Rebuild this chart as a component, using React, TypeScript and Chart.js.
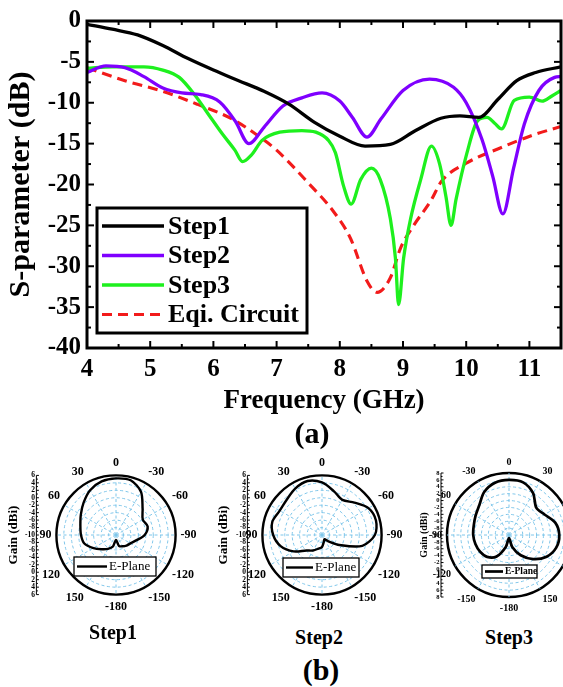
import React, { useEffect, useRef } from "react";
import { Chart, registerables } from "chart.js";
Chart.register(...registerables);

const SERIF = '"Times New Roman", "Liberation Serif", "DejaVu Serif", serif';

// ---------- (a) S-parameter curves ----------
const freqStep1 = [4, 4.4, 4.8, 5.2, 5.6, 6.0, 6.4, 6.8, 7.2, 7.6, 8.0, 8.4, 8.8, 9.2, 9.6, 9.9, 10.2, 10.5, 10.8, 11.1, 11.5];
const sStep1 = [-0.4, -1.0, -1.7, -3.0, -4.6, -6.0, -7.3, -8.6, -10.2, -12.4, -14.1, -15.3, -15.1, -13.4, -11.9, -11.6, -11.8, -9.6, -7.3, -6.3, -5.6];

const freqStep2 = [4, 4.3, 4.6, 4.9, 5.2, 5.5, 5.8, 6.1, 6.35, 6.56, 6.8, 7.1, 7.4, 7.72, 8.0, 8.2, 8.43, 8.65, 9.0, 9.42, 9.8, 10.0, 10.25, 10.42, 10.58, 10.75, 10.92, 11.15, 11.4, 11.5];
const sStep2 = [-6.3, -5.5, -5.7, -6.8, -8.2, -8.8, -9.0, -9.9, -12.3, -15.0, -13.0, -10.4, -9.4, -8.8, -9.8, -11.8, -14.2, -12.0, -8.5, -7.1, -8.1, -10.0, -14.5, -19.0, -23.6, -18.0, -12.6, -8.5, -6.9, -6.8];

const freqStep3 = [4, 4.4, 4.9, 5.2, 5.46, 5.7, 5.92, 6.14, 6.34, 6.46, 6.6, 6.77, 7.05, 7.4, 7.62, 7.82, 7.93, 8.06, 8.18, 8.33, 8.5, 8.64, 8.8, 8.88, 8.93, 9.01, 9.12, 9.28, 9.45, 9.58, 9.68, 9.76, 9.84, 10.01, 10.18, 10.33, 10.45, 10.56, 10.76, 11.0, 11.2, 11.35, 11.5];
const sStep3 = [-5.8, -5.6, -5.6, -6.0, -6.9, -9.0, -11.4, -13.8, -15.8, -17.2, -16.4, -14.6, -13.6, -13.4, -13.6, -14.6, -16.1, -20.2, -22.4, -19.4, -18.0, -19.4, -24.2, -29.0, -34.7, -29.0, -24.2, -19.4, -15.3, -17.5, -21.5, -25.0, -21.8, -16.2, -12.2, -11.8, -12.5, -13.2, -9.7, -9.3, -9.8, -9.2, -8.5];

const freqEqi = [4, 4.6, 5.2, 5.75, 6.3, 6.7, 7.0, 7.5, 7.9, 8.17, 8.43, 8.59, 8.8, 8.96, 9.17, 9.44, 9.61, 10.0, 10.58, 11.04, 11.5];
const sEqi = [-5.7, -7.3, -8.6, -10.2, -12.0, -14.0, -15.8, -19.8, -23.3, -26.6, -31.8, -33.2, -31.4, -27.8, -25.0, -22.0, -19.6, -17.4, -15.4, -14.0, -12.9];

const seriesLabels = ["Step1", "Step2", "Step3", "Eqi. Circuit"];

// ---------- (b) E-plane radiation patterns (gain, dBi) ----------
// angles listed clockwise from the top of each polar plot
const anglesCCW = [0, -15, -30, -45, -60, -75, -90, -105, -120, -135, -150, -165, 180, 165, 150, 135, 120, 105, 90, 75, 60, 45, 30, 15];
const anglesCW = [0, 15, 30, 45, 60, 75, 90, 105, 120, 135, 150, 165, 180, -165, -150, -135, -120, -105, -90, -75, -60, -45, -30, -15];
const gainStep1 = [5.2, 5.2, 3.4, 0.1, -1.7, -1.2, -2.3, -4.4, -5.5, -6.0, -6.5, -7.0, -8.7, -6.8, -5.7, -4.6, -3.0, -1.2, -0.6, -0.1, 0.9, 2.3, 3.9, 4.9];
const gainStep2 = [4.1, 2.2, 0.9, 2.3, 4.4, 5.0, 4.2, 1.2, -4.6, -7.6, -8.7, -8.1, -6.8, -6.2, -5.2, -4.1, -1.2, 1.5, 3.1, 3.8, 3.1, 3.4, 4.4, 5.0];
const gainStep3 = [6.0, 5.8, 4.0, 1.2, 1.9, 3.9, 4.6, 4.2, 2.6, -0.1, -3.2, -6.4, -9.1, -6.4, -2.8, -1.0, -0.3, 0.1, 0.4, 0.6, 1.2, 2.2, 4.4, 5.7];

const xy = (xs: number[], ys: number[]) => xs.map((x, i) => ({ x, y: ys[i] }));

function seg(ctx: CanvasRenderingContext2D, x1: number, y1: number, x2: number, y2: number) {
  ctx.beginPath();
  ctx.moveTo(x1, y1);
  ctx.lineTo(x2, y2);
  ctx.stroke();
}

const frameTicksPlugin = {
  id: "frameTicks",
  afterDraw(chart: any) {
    const { ctx, chartArea: a, scales } = chart;
    const x = scales.x, y = scales.y;
    ctx.save();
    ctx.strokeStyle = "#000";
    ctx.lineWidth = 2;
    const xt = x.ticks.map((t: any) => t.value);
    const xs: [number, boolean][] = [];
    xt.forEach((v: number, i: number) => {
      xs.push([v, true]);
      const nx = i + 1 < xt.length ? xt[i + 1] : x.max;
      const mid = v + (nx - v) / 2;
      if (mid < x.max + 1e-9 && nx - v > 0.6) xs.push([mid, false]);
      else if (i + 1 >= xt.length && v + 0.5 <= x.max + 1e-9) xs.push([v + 0.5, false]);
    });
    xs.forEach(([v, major]) => {
      const px = x.getPixelForValue(v);
      const len = major ? 7 : 4;
      seg(ctx, px, a.bottom, px, a.bottom - len);
      seg(ctx, px, a.top, px, a.top + len);
    });
    const yt = y.ticks.map((t: any) => t.value);
    yt.forEach((v: number, i: number) => {
      const py = y.getPixelForValue(v);
      seg(ctx, a.left, py, a.left + 7, py);
      seg(ctx, a.right, py, a.right - 7, py);
      if (i + 1 < yt.length) {
        const pm = y.getPixelForValue((v + yt[i + 1]) / 2);
        seg(ctx, a.left, pm, a.left + 4, pm);
        seg(ctx, a.right, pm, a.right - 4, pm);
      }
    });
    ctx.lineWidth = 3;
    ctx.strokeRect(a.left, a.top, a.right - a.left, a.bottom - a.top);
    ctx.restore();
  },
};

const insideLegendPlugin = {
  id: "insideLegend",
  afterDraw(chart: any, _args: any, o: any) {
    const { ctx, chartArea: a } = chart;
    const bx = a.left + o.dx, by = a.top + o.dy;
    ctx.save();
    ctx.fillStyle = "#fff";
    ctx.fillRect(bx, by, o.w, o.h);
    ctx.strokeStyle = "#000";
    ctx.lineWidth = 3;
    ctx.strokeRect(bx, by, o.w, o.h);
    ctx.font = `bold ${o.fontSize}px ${SERIF}`;
    ctx.textBaseline = "middle";
    ctx.textAlign = "left";
    chart.data.datasets.forEach((ds: any, i: number) => {
      const yy = by + o.firstRow + i * o.rowH;
      ctx.strokeStyle = ds.borderColor;
      ctx.lineWidth = ds.borderWidth;
      ctx.setLineDash(ds.borderDash || []);
      seg(ctx, bx + 5, yy, bx + 5 + o.lineLen, yy);
      ctx.setLineDash([]);
      ctx.fillStyle = "#000";
      ctx.fillText(ds.label, bx + 9 + o.lineLen, yy + 1);
    });
    ctx.restore();
  },
};

const polarExtrasPlugin = {
  id: "polarExtras",
  afterDraw(chart: any, _args: any, o: any) {
    const r = chart.scales.r;
    const cx = r.xCenter, cy = r.yCenter, R = r.drawingArea;
    const ctx = chart.ctx;
    ctx.save();
    // gain axis on the left
    const ax = cx - R - o.axisGap;
    ctx.strokeStyle = "#000";
    ctx.fillStyle = "#000";
    ctx.lineWidth = 1;
    seg(ctx, ax, cy - R, ax, cy + R);
    ctx.font = `bold ${o.tickFont}px ${SERIF}`;
    ctx.textAlign = "right";
    ctx.textBaseline = "middle";
    for (let v = r.min; v <= r.max + 1e-9; v += 1) {
      const d = r.getDistanceFromCenterForValue(v);
      const major = Math.round(v - r.min) % 2 === 0;
      const ys = d < 0.01 ? [cy] : [cy - d, cy + d];
      ys.forEach((yy: number) => {
        seg(ctx, ax, yy, ax + (major ? 2.5 : 1.5), yy);
        if (major) ctx.fillText(String(v), ax - 1.5, yy);
      });
    }
    ctx.save();
    ctx.translate(ax - o.titleOffset, cy);
    ctx.rotate(-Math.PI / 2);
    ctx.textAlign = "center";
    ctx.font = `bold ${o.titleFont}px ${SERIF}`;
    ctx.fillText("Gain (dBi)", 0, 0);
    ctx.restore();
    // legend box
    const L = o.legend;
    const bx = cx + L.dx, by = cy + L.dy;
    ctx.fillStyle = "#fff";
    ctx.fillRect(bx, by, L.w, L.h);
    ctx.strokeStyle = "#000";
    ctx.lineWidth = 1.3;
    ctx.strokeRect(bx, by, L.w, L.h);
    const ds = chart.data.datasets[0];
    ctx.lineWidth = ds.borderWidth;
    ctx.strokeStyle = ds.borderColor;
    seg(ctx, bx + 3, by + L.h / 2, bx + 3 + L.lineLen, by + L.h / 2);
    ctx.fillStyle = "#000";
    ctx.font = L.font;
    ctx.textAlign = "left";
    ctx.textBaseline = "middle";
    ctx.fillText(ds.label, bx + 5 + L.lineLen, by + L.h / 2 + 0.5);
    ctx.restore();
  },
};

function mainConfig(): any {
  const common = { showLine: true, pointRadius: 0, borderWidth: 3.3, fill: false, cubicInterpolationMode: "monotone" };
  return {
    type: "scatter",
    data: {
      datasets: [
        { ...common, label: seriesLabels[0], data: xy(freqStep1, sStep1), borderColor: "#000000" },
        { ...common, label: seriesLabels[1], data: xy(freqStep2, sStep2), borderColor: "#7F00FF" },
        { ...common, label: seriesLabels[2], data: xy(freqStep3, sStep3), borderColor: "#1EF01E" },
        { ...common, label: seriesLabels[3], data: xy(freqEqi, sEqi), borderColor: "#F21B1B", borderDash: [10, 6], borderWidth: 3.1 },
      ],
    },
    options: {
      responsive: false,
      animation: false,
      layout: { padding: { top: 16, right: 2, left: 0, bottom: 0 } },
      plugins: {
        legend: { display: false },
        tooltip: { enabled: false },
        insideLegend: { dx: 10, dy: 187, w: 210, h: 125, firstRow: 18, rowH: 29.5, lineLen: 62, fontSize: 26 },
      },
      scales: {
        x: {
          type: "linear",
          min: 4,
          max: 11.5,
          ticks: { stepSize: 1, includeBounds: false, color: "#000", padding: 7, maxRotation: 0, font: { family: SERIF, size: 25, weight: "bold" } },
          grid: { display: false, drawTicks: false },
          border: { display: false },
          title: { display: true, text: "Frequency (GHz)", color: "#000", font: { family: SERIF, size: 27, weight: "bold" }, padding: { top: 0, bottom: 3 } },
          afterFit: (s: any) => { s.height = 72; },
        },
        y: {
          type: "linear",
          min: -40,
          max: 0,
          ticks: { stepSize: 5, color: "#000", padding: 6, font: { family: SERIF, size: 25, weight: "bold" } },
          grid: { display: false, drawTicks: false },
          border: { display: false },
          title: { display: true, text: "S-parameter (dB)", color: "#000", font: { family: SERIF, size: 30, weight: "bold" }, padding: { top: 3, bottom: 0 } },
          afterFit: (s: any) => { s.width = 87; },
        },
      },
    },
    plugins: [frameTicksPlugin, insideLegendPlugin],
  };
}

function polarConfig(angles: number[], gains: number[], p: any): any {
  const labels = angles.map((a) => (a === 180 ? "-180" : String(a)));
  const max = p.max;
  return {
    type: "radar",
    data: {
      labels,
      datasets: [
        { label: "E-Plane", data: gains, borderColor: "#000", borderWidth: p.lineWidth, pointRadius: 0, fill: false, tension: 0.3 },
      ],
    },
    options: {
      responsive: false,
      animation: false,
      layout: { padding: p.padding },
      plugins: {
        legend: { display: false },
        tooltip: { enabled: false },
        polarExtras: p.extras,
      },
      scales: {
        r: {
          min: -10,
          max,
          startAngle: 0,
          ticks: { display: false, stepSize: 2 },
          grid: {
            circular: true,
            color: (c: any) => (c.tick && c.tick.value === max ? "#000" : "#7FC6EA"),
            lineWidth: (c: any) => (c.tick && c.tick.value === max ? p.rimWidth : 1),
          },
          border: { dash: (c: any) => (c.tick && c.tick.value === max ? [] : [3, 2.5]) },
          angleLines: {
            display: true,
            color: (c: any) => (c.index % 2 === 0 ? "#7FC6EA" : "rgba(0,0,0,0)"),
            lineWidth: 1,
            borderDash: [3, 2.5],
          },
          pointLabels: {
            display: true,
            padding: 5,
            color: "#000",
            font: { family: SERIF, size: p.labelSize, weight: "bold" },
            callback: (label: string, index: number) => (index % 2 === 0 ? label : ""),
          },
        },
      },
    },
    plugins: [polarExtrasPlugin],
  };
}

const polarSpecs = [
  {
    left: 0, top: 450, width: 231, height: 172,
    angles: anglesCCW, gains: gainStep1,
    p: {
      max: 6, lineWidth: 2.4, rimWidth: 2.4, labelSize: 12,
      padding: { left: 11, right: 10, top: 6, bottom: 7 },
      extras: { axisGap: 20, tickFont: 7.5, titleFont: 13, titleOffset: 23,
        legend: { dx: -42, dy: 22, w: 82, h: 19, lineLen: 30, font: `13px ${SERIF}` } },
    },
  },
  {
    left: 190, top: 450, width: 247, height: 172,
    angles: anglesCCW, gains: gainStep2,
    p: {
      max: 6, lineWidth: 2.4, rimWidth: 2.4, labelSize: 12,
      padding: { left: 27, right: 10, top: 6, bottom: 7 },
      extras: { axisGap: 15, tickFont: 7.5, titleFont: 13, titleOffset: 24,
        legend: { dx: -39, dy: 23, w: 76, h: 19, lineLen: 27, font: `13px ${SERIF}` } },
    },
  },
  {
    left: 380, top: 450, width: 244, height: 172,
    angles: anglesCW, gains: gainStep3,
    p: {
      max: 8, lineWidth: 2.7, rimWidth: 2.5, labelSize: 10,
      padding: { left: 24, right: 10, top: 6, bottom: 7 },
      extras: { axisGap: 6, tickFont: 6.5, titleFont: 10, titleOffset: 17,
        legend: { dx: -27, dy: 30, w: 55, h: 13, lineLen: 18, font: `bold 9.5px ${SERIF}` } },
    },
  },
];

const captionStyle = (cx: number, cy: number, size: number): React.CSSProperties => ({
  position: "absolute",
  left: cx - 60,
  width: 120,
  top: cy - size * 0.6,
  height: size * 1.2,
  lineHeight: `${size * 1.2}px`,
  textAlign: "center",
  fontFamily: SERIF,
  fontWeight: "bold",
  fontSize: size,
  color: "#000",
});

export default function App() {
  const mainRef = useRef<HTMLCanvasElement>(null);
  const polarRefs = [useRef<HTMLCanvasElement>(null), useRef<HTMLCanvasElement>(null), useRef<HTMLCanvasElement>(null)];

  useEffect(() => {
    const charts: Chart[] = [];
    if (mainRef.current) charts.push(new Chart(mainRef.current, mainConfig()));
    polarSpecs.forEach((s, i) => {
      const el = polarRefs[i].current;
      if (el) charts.push(new Chart(el, polarConfig(s.angles, s.gains, s.p)));
    });
    return () => charts.forEach((c) => c.destroy());
  }, []);

  return (
    <div style={{ position: "absolute", left: 0, top: 0, width: 563, height: 687, overflow: "hidden", background: "#fff" }}>
      <canvas ref={mainRef} width={563} height={420} style={{ position: "absolute", left: 0, top: 0, width: 563, height: 420 }} />
      <div style={captionStyle(312, 433, 30)}>(a)</div>
      {polarSpecs.map((s, i) => (
        <canvas
          key={i}
          ref={polarRefs[i]}
          width={s.width}
          height={s.height}
          style={{ position: "absolute", left: s.left, top: s.top, width: s.width, height: s.height }}
        />
      ))}
      <div style={captionStyle(113, 632, 20)}>Step1</div>
      <div style={captionStyle(319, 637, 20)}>Step2</div>
      <div style={captionStyle(509, 637, 20)}>Step3</div>
      <div style={captionStyle(321, 670, 30)}>(b)</div>
    </div>
  );
}
